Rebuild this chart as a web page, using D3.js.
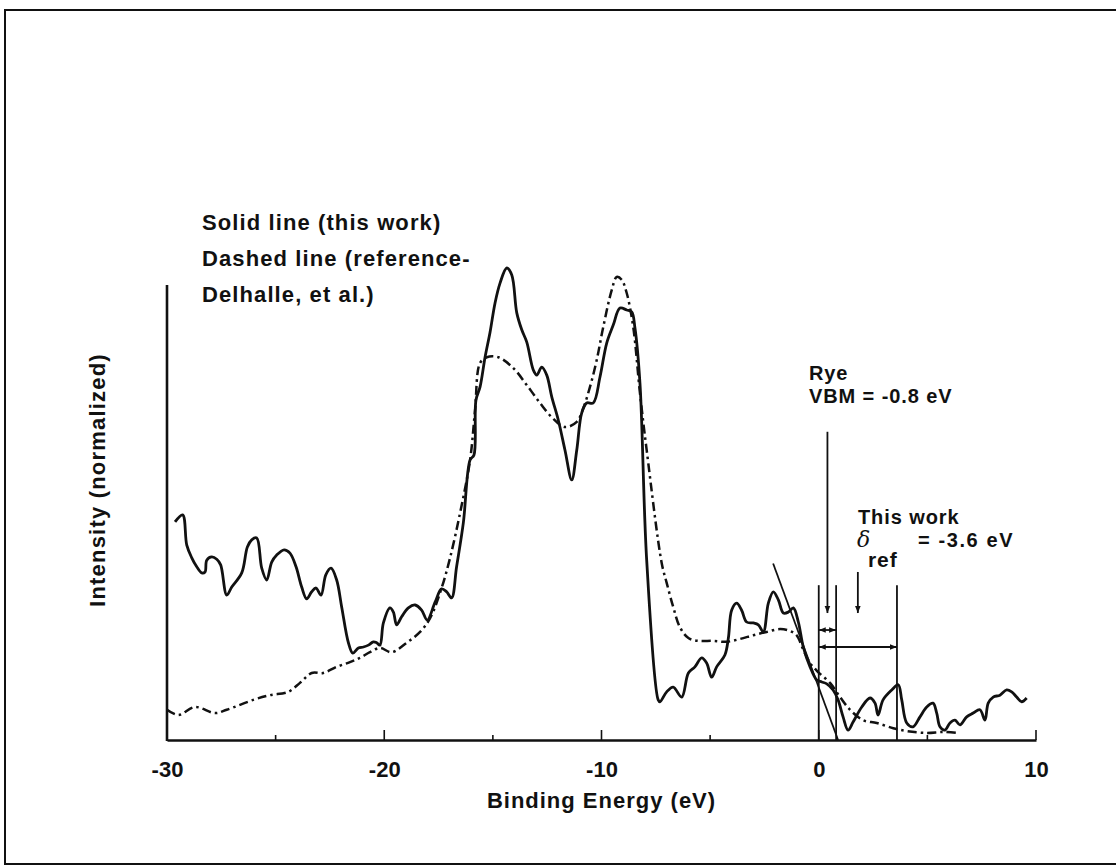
<!DOCTYPE html>
<html>
<head>
<meta charset="utf-8">
<script src="https://d3js.org/d3.v7.min.js"></script>
<style>
  body { margin: 0; background: #fff; }
  svg text { font-family: "Liberation Sans", Arial, Helvetica, sans-serif; font-weight: bold; fill: #111; }
</style>
</head>
<body>
<div id="chart"></div>
<script>
// solid line (this work): binding energy (eV) and normalized intensity
var solidE = [-29.63,-29.28,-29.09,-28.86,-28.63,-28.40,-28.25,-28.17,-27.94,-27.71,-27.53,-27.25,-27.02,-26.56,-26.30,-26.10,-25.87,-25.64,-25.41,-25.18,
  -24.95,-24.61,-24.34,-24.06,-23.80,-23.57,-23.34,-23.14,-22.91,-22.69,-22.45,-22.19,-21.96,-21.65,-21.45,-21.19,-20.96,-20.73,-20.50,-20.35,
  -20.20,-20.04,-19.74,-19.58,-19.43,-19.20,-18.89,-18.58,-18.28,-18.02,-17.66,-17.36,-17.13,-16.90,-16.67,-16.36,-16.05,-15.87,-15.78,-15.59,
  -15.36,-15.13,-14.90,-14.67,-14.36,-14.13,-13.90,-13.67,-13.44,-13.14,-12.98,-12.75,-12.52,-12.29,-11.99,-11.68,-11.37,-11.14,-10.91,-10.68,
  -10.38,-10.07,-9.76,-9.46,-9.15,-8.84,-8.61,-8.46,-8.23,-7.92,-7.39,-7.31,-7.00,-6.70,-6.31,-6.00,-5.70,-5.39,-5.16,-4.93,
  -4.70,-4.32,-4.16,-4.01,-3.78,-3.55,-3.32,-3.01,-2.78,-2.55,-2.32,-2.09,-1.86,-1.63,-1.40,-1.17,-0.94,-0.71,-0.40,-0.09,
  0.14,0.37,0.66,0.89,1.12,1.35,1.58,1.98,2.36,2.59,2.73,2.96,3.36,3.66,3.82,4.05,4.34,4.66,4.97,5.26,
  5.43,5.58,5.81,6.04,6.27,6.50,6.81,7.11,7.42,7.65,7.80,8.03,8.34,8.65,8.88,9.11,9.34,9.57];
var solidI = [0.462,0.477,0.413,0.386,0.367,0.354,0.356,0.381,0.388,0.383,0.371,0.307,0.324,0.354,0.409,0.424,0.428,0.364,0.339,0.377,
  0.392,0.403,0.396,0.367,0.324,0.299,0.314,0.322,0.307,0.350,0.364,0.339,0.282,0.206,0.184,0.195,0.197,0.201,0.208,0.206,
  0.201,0.248,0.280,0.271,0.244,0.261,0.280,0.286,0.275,0.254,0.292,0.320,0.314,0.301,0.367,0.460,0.593,0.604,0.720,0.748,
  0.811,0.864,0.926,0.968,1.000,0.985,0.905,0.869,0.843,0.784,0.773,0.790,0.773,0.727,0.678,0.614,0.551,0.614,0.693,0.714,
  0.714,0.769,0.841,0.879,0.915,0.911,0.907,0.873,0.756,0.381,0.085,0.081,0.102,0.112,0.091,0.142,0.155,0.174,0.163,0.133,
  0.155,0.180,0.216,0.275,0.290,0.275,0.250,0.248,0.244,0.229,0.290,0.314,0.297,0.269,0.271,0.280,0.250,0.197,0.155,0.127,
  0.123,0.119,0.106,0.085,0.049,0.021,0.038,0.070,0.089,0.078,0.053,0.085,0.106,0.117,0.085,0.036,0.028,0.049,0.070,0.078,
  0.057,0.028,0.021,0.036,0.042,0.032,0.049,0.057,0.064,0.042,0.078,0.091,0.095,0.106,0.102,0.091,0.081,0.089];

// dashed line (reference - Delhalle, et al.)
var dashE = [-30.00,-29.48,-28.71,-27.79,-27.25,-26.03,-25.26,-24.42,-23.88,-23.34,-22.81,-22.19,-21.58,-21.12,-20.66,-20.20,-19.66,-18.97,-18.35,-17.89,
  -17.36,-16.97,-16.51,-16.05,-15.82,-15.59,-15.28,-14.75,-14.06,-13.44,-12.83,-12.29,-11.68,-11.14,-10.84,-10.53,-10.22,-9.92,-9.53,-9.30,
  -9.07,-8.84,-8.54,-8.23,-7.92,-7.23,-7.00,-6.70,-6.39,-6.00,-5.54,-4.85,-4.24,-3.63,-3.01,-2.40,-1.78,-1.32,-1.02,-0.71,
  -0.40,-0.03,0.52,0.98,1.44,2.04,2.67,3.43,4.05,4.97,5.73,6.35];
var dashI = [0.064,0.053,0.070,0.057,0.064,0.085,0.095,0.102,0.121,0.142,0.142,0.155,0.165,0.174,0.186,0.195,0.186,0.206,0.229,0.258,
  0.322,0.386,0.481,0.593,0.699,0.799,0.811,0.811,0.788,0.752,0.714,0.684,0.663,0.674,0.703,0.748,0.805,0.875,0.953,0.981,
  0.975,0.947,0.875,0.735,0.614,0.375,0.333,0.282,0.239,0.216,0.210,0.210,0.208,0.214,0.222,0.229,0.235,0.231,0.222,0.191,
  0.163,0.144,0.121,0.091,0.064,0.042,0.036,0.025,0.019,0.015,0.017,0.015];

// leading-edge extrapolation line
var edgeE = [-2.10, 0.89];
var edgeI = [0.374, 0.0];

// markers: VBM (0), Rye VBM (0.8), this work (3.6)
var markE = [0, 0.8, 3.6];
var xTicks = [-30, -20, -10, 0, 10];
var xMinor = [-25, -15, -5, 5];

var W = 1116, H = 867;
var svg = d3.select("#chart").append("svg")
    .attr("width", W)
    .attr("height", H);

// outer frame
svg.append("rect")
    .attr("x", 5).attr("y", 10)
    .attr("width", 1120).attr("height", 854)
    .attr("fill", "none").attr("stroke", "#111").attr("stroke-width", 2);

var x = d3.scaleLinear().domain([-30, 10]).range([167, 1036]);
var y = d3.scaleLinear().domain([0, 1]).range([740, 268]);

// x axis
var xAxis = svg.append("g")
    .attr("transform", "translate(0," + y(0) + ")")
    .call(d3.axisBottom(x).tickValues(xTicks).tickSize(0).tickPadding(21)
        .tickFormat(function (d) { return d; }));
xAxis.select(".domain").attr("stroke", "#111").attr("stroke-width", 2.6);
xAxis.selectAll("text").style("font-size", "22px").attr("fill", "#111");

// inward ticks
svg.selectAll(".majorTick").data(xTicks).enter().append("line")
    .attr("x1", function (d) { return x(d); }).attr("x2", function (d) { return x(d); })
    .attr("y1", y(0)).attr("y2", y(0) - 10)
    .attr("stroke", "#111").attr("stroke-width", 1.6);
svg.selectAll(".minorTick").data(xMinor).enter().append("line")
    .attr("x1", function (d) { return x(d); }).attr("x2", function (d) { return x(d); })
    .attr("y1", y(0)).attr("y2", y(0) - 5)
    .attr("stroke", "#111").attr("stroke-width", 1.6);

// y axis (no ticks)
svg.append("line")
    .attr("x1", x(-30)).attr("x2", x(-30))
    .attr("y1", y(0) + 1).attr("y2", y(0.964))
    .attr("stroke", "#111").attr("stroke-width", 2.6);

// axis titles
svg.append("text")
    .attr("x", x(-10)).attr("y", 808)
    .attr("text-anchor", "middle")
    .style("font-size", "22px")
    .style("letter-spacing", "1px")
    .text("Binding Energy (eV)");
svg.append("text")
    .attr("transform", "translate(105,480) rotate(-90)")
    .attr("text-anchor", "middle")
    .style("font-size", "22px")
    .style("letter-spacing", "1.2px")
    .text("Intensity (normalized)");

// legend text
var legend = ["Solid line (this work)", "Dashed line (reference-", "Delhalle, et al.)"];
svg.selectAll(".leg").data(legend).enter().append("text")
    .attr("x", 202)
    .attr("y", function (d, i) { return 230 + i * 36; })
    .style("font-size", "22px")
    .style("letter-spacing", "1.1px")
    .text(function (d) { return d; });

var line = d3.line()
    .x(function (d) { return x(d[0]); })
    .y(function (d) { return y(d[1]); })
    .curve(d3.curveCatmullRom.alpha(0.5));

svg.append("path")
    .datum(dashE.map(function (e, i) { return [e, dashI[i]]; }))
    .attr("d", line)
    .attr("fill", "none").attr("stroke", "#111").attr("stroke-width", 2.5)
    .attr("stroke-dasharray", "9,4,2.5,4");

svg.append("path")
    .datum(solidE.map(function (e, i) { return [e, solidI[i]]; }))
    .attr("d", line)
    .attr("fill", "none").attr("stroke", "#111").attr("stroke-width", 2.8)
    .attr("stroke-linejoin", "round");

// extrapolated edge
svg.append("line")
    .attr("x1", x(edgeE[0])).attr("y1", y(edgeI[0]))
    .attr("x2", x(edgeE[1])).attr("y2", y(edgeI[1]))
    .attr("stroke", "#111").attr("stroke-width", 1.8);

// vertical markers
svg.selectAll(".mark").data(markE).enter().append("line")
    .attr("x1", function (d) { return x(d); }).attr("x2", function (d) { return x(d); })
    .attr("y1", y(0)).attr("y2", y(0.328))
    .attr("stroke", "#111").attr("stroke-width", 1.8);

// arrowheads
var defs = svg.append("defs");
defs.append("marker").attr("id", "ah")
    .attr("viewBox", "0 0 10 10").attr("refX", 10).attr("refY", 5)
    .attr("markerWidth", 7).attr("markerHeight", 7).attr("orient", "auto-start-reverse")
    .attr("markerUnits", "userSpaceOnUse")
    .append("path").attr("d", "M0,1 L10,5 L0,9 Z").attr("fill", "#111");

// downward arrows
var arrows = [[0.4, 0.653, 0.269], [1.8, 0.356, 0.269]];
svg.selectAll(".arr").data(arrows).enter().append("line")
    .attr("x1", function (d) { return x(d[0]); }).attr("x2", function (d) { return x(d[0]); })
    .attr("y1", function (d) { return y(d[1]); }).attr("y2", function (d) { return y(d[2]); })
    .attr("stroke", "#111").attr("stroke-width", 1.8)
    .attr("marker-end", "url(#ah)");

// double-headed spans
var spans = [[0, 0.8, 0.233], [0, 3.6, 0.197]];
svg.selectAll(".span").data(spans).enter().append("line")
    .attr("x1", function (d) { return x(d[0]); }).attr("x2", function (d) { return x(d[1]); })
    .attr("y1", function (d) { return y(d[2]); }).attr("y2", function (d) { return y(d[2]); })
    .attr("stroke", "#111").attr("stroke-width", 1.8)
    .attr("marker-start", "url(#ah)").attr("marker-end", "url(#ah)");

// annotation text
var ann = svg.append("g").style("font-size", "20px").style("letter-spacing", "0.9px");
ann.append("text").attr("x", 809).attr("y", 380).text("Rye");
ann.append("text").attr("x", 809).attr("y", 403).text("VBM = -0.8 eV");
ann.append("text").attr("x", 858).attr("y", 524).text("This work");
ann.append("text").attr("x", 857).attr("y", 547)
    .style("font-style", "italic").style("font-weight", "normal")
    .style("font-family", "'DejaVu Serif', serif").style("font-size", "22px").text("δ");
ann.append("text").attr("x", 868).attr("y", 567).style("font-size", "21px").text("ref");
ann.append("text").attr("x", 918).attr("y", 547).style("letter-spacing", "1.6px").text("= -3.6 eV");
</script>
</body>
</html>
